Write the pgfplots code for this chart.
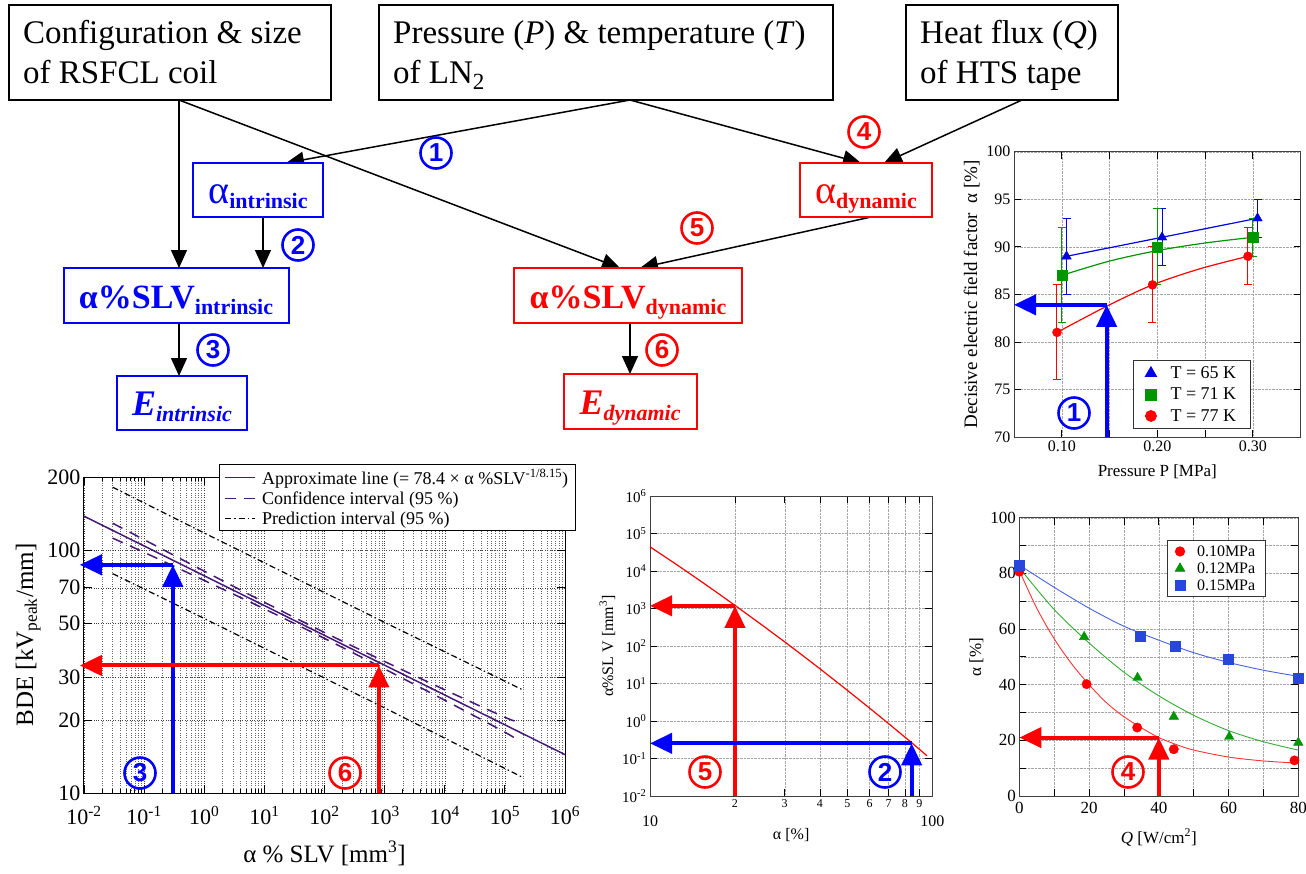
\documentclass[border=0pt]{standalone}
\usepackage{pgfplots}
\pgfplotsset{compat=1.18}
\usepackage{fontspec}
\setmainfont{Liberation Serif}
\setsansfont{Liberation Sans}
\usetikzlibrary{arrows.meta}
\newcommand{\fsz}[1]{\fontsize{#1}{#1}\selectfont}
\definecolor{dpurple}{RGB}{70,25,120}
\definecolor{tgreen}{RGB}{0,150,0}
\definecolor{tblue}{RGB}{0,0,230}
\definecolor{tred}{RGB}{255,0,0}
\definecolor{cblue}{RGB}{40,70,220}
\tikzset{
  farr/.style={line width=1.5pt, -{Triangle[length=18pt,width=16pt]}},
  barr/.style={line width=4pt, -{Triangle[length=22pt,width=20pt]}},
}
\newcommand{\cn}[3]{\node[circle, draw=#1, line width=2.6pt, text=#1, inner sep=0pt, minimum size=31pt, font=\sffamily\bfseries\fsz{26}] at #2 {#3};}
\begin{document}
\begin{tikzpicture}
\path[use as bounding box] (0pt,0pt) rectangle (1306pt,-873pt);

% ---------------- flowchart ----------------
\begin{scope}[x=1pt,y=-1pt]
\draw[farr] (179,100) -- (179,268);
\draw[farr] (179,100) -- (620,268);
\draw[farr] (630,100) -- (286,163);
\draw[farr] (630,100) -- (861,163);
\draw[farr] (1022,100) -- (884,163);
\draw[farr] (263,217) -- (263,268);
\draw[farr] (871,217) -- (640,268);
\draw[farr] (179,323) -- (179,376);
\draw[farr] (630,323) -- (630,374);

\draw[line width=1.5pt] (9,5) rectangle (331,100);
\draw[line width=1.5pt] (379,5) rectangle (833,100);
\draw[line width=1.5pt] (906,5) rectangle (1118,100);
\node[anchor=base west, inner sep=0pt, font=\fsz{33}] at (23,43) {Configuration \& size};
\node[anchor=base west, inner sep=0pt, font=\fsz{33}] at (23,83) {of RSFCL coil};
\node[anchor=base west, inner sep=0pt, font=\fsz{33}] at (393,43) {Pressure (\textit{P}) \& temperature (\textit{T})};
\node[anchor=base west, inner sep=0pt, font=\fsz{33}] at (393,83) {of LN\textsubscript{2}};
\node[anchor=base west, inner sep=0pt, font=\fsz{33}] at (920,43) {Heat flux (\textit{Q})};
\node[anchor=base west, inner sep=0pt, font=\fsz{33}] at (920,83) {of HTS tape};

\draw[blue, line width=1.5pt, fill=white] (193,163) rectangle (323,217);
\draw[blue, line width=1.5pt, fill=white] (64,268) rectangle (289,323);
\draw[blue, line width=1.5pt, fill=white] (117,376) rectangle (247,430);
\draw[tred, line width=1.5pt, fill=white] (800,163) rectangle (932,217);
\draw[tred, line width=1.5pt, fill=white] (514,268) rectangle (742,323);
\draw[tred, line width=1.5pt, fill=white] (564,374) rectangle (697,429);

\node[anchor=base, inner sep=0pt, text=blue] at (258,203) {{\fsz{40}α}\raisebox{-5pt}{\fsz{22}\bfseries intrinsic}};
\node[anchor=base, inner sep=0pt, text=blue] at (176,308) {{\fsz{34}\bfseries α\%SLV}\raisebox{-6pt}{\fsz{22}\bfseries intrinsic}};
\node[anchor=base, inner sep=0pt, text=blue] at (182,415) {{\fsz{36}\bfseries\itshape E}\raisebox{-6pt}{\fsz{22}\bfseries\itshape intrinsic}};
\node[anchor=base, inner sep=0pt, text=tred] at (866,203) {{\fsz{40}α}\raisebox{-5pt}{\fsz{22}\bfseries dynamic}};
\node[anchor=base, inner sep=0pt, text=tred] at (628,308) {{\fsz{34}\bfseries α\%SLV}\raisebox{-6pt}{\fsz{22}\bfseries dynamic}};
\node[anchor=base, inner sep=0pt, text=tred] at (630,414) {{\fsz{36}\bfseries\itshape E}\raisebox{-6pt}{\fsz{22}\bfseries\itshape dynamic}};
\end{scope}

% ---------------- top right: alpha vs pressure ----------------
\begin{axis}[
  at={(1014pt,-437pt)}, anchor=south west, scale only axis,
  width=286.5pt, height=285.3pt,
  xmin=0.05, xmax=0.35, ymin=70, ymax=100,
  xtick={0.1,0.2,0.3}, xticklabels={0.10,0.20,0.30},
  minor xtick={0.15,0.25},
  ytick={70,75,80,85,90,95,100}, yticklabels={70,75,80,85,90,95,100},
  grid=both, major grid style={densely dotted, gray!70}, minor grid style={densely dotted, gray!70},
  tick align=inside, major tick length=7pt, minor tick length=7pt,
  axis line style={black!75, line width=1pt}, tick style={black, line width=0.8pt},
  ticklabel style={font=\fsz{16}},
  xlabel={Pressure P [MPa]}, ylabel={Decisive electric field factor \ α [\%]},
  label style={font=\fsz{19}},
  xlabel style={font=\fsz{17}, yshift=-6pt},
  clip=false,
  legend style={at={(0.415,0.028)}, anchor=south west, font=\fsz{18}, draw=black!80, line width=0.8pt, row sep=4pt, column sep=12pt, inner xsep=12pt, inner ysep=4pt},
  legend cell align=left,
]
\addlegendimage{only marks, mark=triangle*, tblue, mark size=6.5pt}
\addlegendentry{T = 65 K}
\addlegendimage{only marks, mark=square*, tgreen, mark size=5.5pt}
\addlegendentry{T = 71 K}
\addlegendimage{only marks, mark=*, tred, mark size=5.5pt}
\addlegendentry{T = 77 K}
% lines
\addplot[tblue, line width=1.2pt, forget plot] coordinates {(0.105,89) (0.205,91) (0.305,93)};
\addplot[tgreen, line width=1.2pt, smooth, forget plot] coordinates {(0.10,87) (0.15,88.5) (0.20,89.6) (0.25,90.4) (0.30,91)};
\addplot[tred, line width=1.2pt, smooth, forget plot] coordinates {(0.095,81) (0.148,83.8) (0.195,86) (0.245,87.7) (0.295,89)};
% markers with error bars
\addplot[tblue, only marks, mark=triangle*, mark size=5.5pt, forget plot,
  error bars/.cd, y dir=both, y explicit, error bar style={tblue, line width=1pt},
  error mark options={rotate=90, tblue, mark size=4pt, line width=1pt}]
  table[x=x, y=y, y error plus=ep, y error minus=em] {
x y ep em
0.105 89 4 4
0.205 91 3 3
0.305 93 2 2
};
\addplot[tgreen, only marks, mark=square*, mark size=5pt, forget plot,
  error bars/.cd, y dir=both, y explicit, error bar style={tgreen, line width=1pt},
  error mark options={rotate=90, tgreen, mark size=4pt, line width=1pt}]
  table[x=x, y=y, y error plus=ep, y error minus=em] {
x y ep em
0.10 87 5 5
0.20 90 4 4
0.30 91 2 2
};
\addplot[tred, only marks, mark=*, mark size=4.5pt, forget plot,
  error bars/.cd, y dir=both, y explicit, error bar style={tred, line width=1pt},
  error mark options={rotate=90, tred, mark size=4pt, line width=1pt}]
  table[x=x, y=y, y error plus=ep, y error minus=em] {
x y ep em
0.095 81 5 5
0.195 86 4 4
0.295 89 3 3
};
\draw[blue, barr] (axis cs:0.147,70) -- (axis cs:0.147,83.9);
\draw[blue, barr] (axis cs:0.147,83.9) -- (axis cs:0.05,83.9);
\end{axis}

% ---------------- bottom left: BDE vs alpha%SLV ----------------
\begin{axis}[
  at={(84pt,-793pt)}, anchor=south west, scale only axis,
  width=481pt, height=316pt,
  xmode=log, ymode=log, xmin=1e-2, xmax=1e6, ymin=10, ymax=200,
  xtick={1e-2,1e-1,1e0,1e1,1e2,1e3,1e4,1e5,1e6},
  xticklabels={10\textsuperscript{-2},10\textsuperscript{-1},10\textsuperscript{0},10\textsuperscript{1},10\textsuperscript{2},10\textsuperscript{3},10\textsuperscript{4},10\textsuperscript{5},10\textsuperscript{6}},
  minor xtick={2e-2,3e-2,4e-2,5e-2,6e-2,7e-2,8e-2,9e-2,
    2e-1,3e-1,4e-1,5e-1,6e-1,7e-1,8e-1,9e-1,
    2,3,4,5,6,7,8,9,
    20,30,40,50,60,70,80,90,
    200,300,400,500,600,700,800,900,
    2e3,3e3,4e3,5e3,6e3,7e3,8e3,9e3,
    2e4,3e4,4e4,5e4,6e4,7e4,8e4,9e4,
    2e5,3e5,4e5,5e5,6e5,7e5,8e5,9e5},
  ytick={10,20,30,50,70,100,200}, yticklabels={10,20,30,50,70,100,200},
  minor ytick={},
  xmajorgrids, xminorgrids, ymajorgrids,
  major grid style={dotted, black!75}, minor grid style={dotted, black!60},
  tick align=inside, major tick length=8pt, minor tick length=4pt,
  axis line style={black, line width=1pt}, tick style={black, line width=0.8pt},
  ticklabel style={font=\fsz{22}},
  x tick label style={yshift=-10pt},
  xlabel={α \% SLV [mm\textsuperscript{3}]}, ylabel={BDE [kV\textsubscript{peak}/mm]},
  label style={font=\fsz{25}},
  xlabel style={yshift=-10pt},
  clip=false,
  legend style={at={(0.281,1.041)}, anchor=north west, font=\fsz{18}, draw=black, line width=0.8pt, fill=white, row sep=2pt, column sep=4pt, inner xsep=5pt, inner ysep=3pt},
  legend cell align=left,
  legend image code/.code={\draw[#1] (0pt,0pt) -- (30pt,0pt);},
]
\addplot[dpurple, line width=1.5pt] coordinates {(0.01,137.95) (1e6,14.39)};
\addlegendentry{Approximate line (= 78.4 × α \%SLV\textsuperscript{-1/8.15})}
\addplot[dpurple, line width=1.5pt, dash pattern=on 11pt off 8pt, smooth] coordinates {
(0.03,129) (0.1,110.4) (1,81.9) (10,61.0) (100,45.8) (1000,34.8) (1e4,26.6) (1e5,20.5) (1.7e5,19.6)};
\addlegendentry{Confidence interval (95 \%)}
\addplot[dpurple, line width=1.5pt, dash pattern=on 11pt off 8pt, smooth, forget plot] coordinates {
(0.03,112) (0.1,97.9) (1,75.0) (10,57.3) (100,43.3) (1000,32.4) (1e4,24.1) (1e5,17.8) (1.7e5,16.4)};
\addplot[black, line width=1.2pt, dash pattern=on 6pt off 3pt on 1.5pt off 3pt] coordinates {
(0.03,181.6) (1,117.6) (1000,50.4) (1.97e5,26.6)};
\addlegendentry{Prediction interval (95 \%)}
\addplot[black, line width=1.2pt, dash pattern=on 6pt off 3pt on 1.5pt off 3pt, forget plot] coordinates {
(0.03,80.0) (1,52.3) (1000,22.4) (1.97e5,11.6)};
\draw[blue, barr] (axis cs:0.3,10) -- (axis cs:0.3,87);
\draw[blue, barr] (axis cs:0.3,87) -- (axis cs:0.0085,87);
\draw[tred, barr] (axis cs:803,10) -- (axis cs:803,33.5);
\draw[tred, barr] (axis cs:803,33.5) -- (axis cs:0.0085,33.5);
\end{axis}

% ---------------- bottom middle: alpha%SLV vs alpha ----------------
\begin{axis}[
  at={(650pt,-796pt)}, anchor=south west, scale only axis,
  width=282.3pt, height=300pt,
  xmode=log, ymode=log, xmin=10, xmax=100, ymin=1e-2, ymax=1e6,
  xtick={20,30,40,50,60,70,80,90}, xticklabels={2,3,4,5,6,7,8,9},
  ytick={1e-2,1e-1,1e0,1e1,1e2,1e3,1e4,1e5,1e6},
  yticklabels={10\textsuperscript{-2},10\textsuperscript{-1},10\textsuperscript{0},10\textsuperscript{1},10\textsuperscript{2},10\textsuperscript{3},10\textsuperscript{4},10\textsuperscript{5},10\textsuperscript{6}},
  xmajorgrids, ymajorgrids,
  major grid style={densely dotted, gray!70},
  tick align=inside, major tick length=7pt, minor tick length=0pt,
  axis line style={black!75, line width=1pt}, tick style={black, line width=0.8pt},
  x tick label style={font=\fsz{12}},
  y tick label style={font=\fsz{15}},
  xlabel={α [\%]}, ylabel={α\%SL V [mm\textsuperscript{3}]},
  label style={font=\fsz{16}},
  xlabel style={yshift=-14pt},
  clip=false,
]
\addplot[tred, line width=1.2pt] coordinates {
(10,44260) (12.5,14360) (15,5600) (17.5,2485) (20,1213) (25,357) (30,129) (35,53.5) (40,24.7) (50,6.59) (60,2.2) (70,0.853) (80,0.371) (85,0.254) (95.7,0.119)};
\node[anchor=north, font=\fsz{16}, yshift=-16pt] at (axis cs:10,0.01) {10};
\node[anchor=north, font=\fsz{16}, yshift=-16pt] at (axis cs:100,0.01) {100};
\draw[tred, barr] (axis cs:20,0.01) -- (axis cs:20,1180);
\draw[tred, barr] (axis cs:20,1180) -- (axis cs:10,1180);
\draw[blue, barr] (axis cs:84.5,0.01) -- (axis cs:84.5,0.254);
\draw[blue, barr] (axis cs:84.5,0.254) -- (axis cs:10,0.254);
\end{axis}

% ---------------- bottom right: alpha vs Q ----------------
\begin{axis}[
  at={(1019.3pt,-796pt)}, anchor=south west, scale only axis,
  width=279pt, height=278.3pt,
  xmin=0, xmax=80, ymin=0, ymax=100,
  xtick={0,20,40,60,80}, minor xtick={10,30,50,70},
  ytick={0,20,40,60,80,100}, minor ytick={10,30,50,70,90},
  grid=both, major grid style={densely dotted, gray!70}, minor grid style={densely dotted, gray!70},
  tick align=inside, major tick length=7pt, minor tick length=7pt,
  axis line style={black!75, line width=1pt}, tick style={black, line width=0.8pt},
  ticklabel style={font=\fsz{17}}, /pgf/number format/assume math mode=true,
  x tick label style={yshift=-3pt},
  xlabel={\textit{Q} [W/cm\textsuperscript{2}]}, ylabel={α [\%]},
  label style={font=\fsz{17}},
  xlabel style={yshift=-8pt},
  clip=false,
  legend style={at={(0.528,0.92)}, anchor=north west, font=\fsz{16}, draw=black!80, line width=0.8pt, row sep=1pt, column sep=10pt, inner xsep=8pt, inner ysep=3pt},
  legend cell align=left,
]
\addlegendimage{only marks, mark=*, tred, mark size=4.7pt}
\addlegendentry{0.10MPa}
\addlegendimage{only marks, mark=triangle*, tgreen, mark size=5.5pt}
\addlegendentry{0.12MPa}
\addlegendimage{only marks, mark=square*, cblue, mark size=5pt}
\addlegendentry{0.15MPa}
\addplot[tred!80, line width=0.9pt, smooth, forget plot] coordinates {
(0,81) (5,67.5) (10,56.5) (15,47.5) (20,40) (25,33.5) (30,28.5) (35,24.5) (40,21) (45,18.5) (50,16.5) (60,14) (70,12.6) (80,11.8)};
\addplot[tgreen!80, line width=0.9pt, smooth, forget plot] coordinates {
(0,82) (10,67) (20,55) (30,44.5) (40,36) (50,29) (60,23.5) (70,19.5) (80,16.5)};
\addplot[cblue!85, line width=0.9pt, smooth, forget plot] coordinates {
(0,83) (10,75) (20,67.5) (30,61) (40,56) (50,51.5) (60,48) (70,45.2) (80,43)};
\addplot[tred, only marks, mark=*, mark size=4.7pt, forget plot] coordinates {
(0,80.6) (19.3,40.2) (33.8,24.6) (44.3,16.8) (78.9,12.8)};
\addplot[tgreen, only marks, mark=triangle*, mark size=5.5pt, forget plot] coordinates {
(0,82) (18.6,57.2) (33.9,42.5) (44.3,28.5) (60.2,21.3) (80,19.2)};
\addplot[cblue, only marks, mark=square*, mark size=5pt, forget plot] coordinates {
(0,82.8) (34.6,57.6) (44.7,54.0) (59.9,49.2) (80,42.5)};
\draw[tred, barr] (axis cs:40,0) -- (axis cs:40,21);
\draw[tred, barr] (axis cs:40,21) -- (axis cs:0,21);
\end{axis}

% ---------------- circled numbers ----------------
\begin{scope}[x=1pt,y=-1pt]
\cn{blue}{(436,153)}{1}
\cn{blue}{(298,245)}{2}
\cn{blue}{(213,350)}{3}
\cn{tred}{(864,132)}{4}
\cn{tred}{(697,228)}{5}
\cn{tred}{(662,350)}{6}
\cn{blue}{(1074,413)}{1}
\cn{blue}{(140,773)}{3}
\cn{tred}{(345,773)}{6}
\cn{tred}{(705,772)}{5}
\cn{blue}{(885,772)}{2}
\cn{tred}{(1128,772)}{4}
\end{scope}
\end{tikzpicture}
\end{document}
